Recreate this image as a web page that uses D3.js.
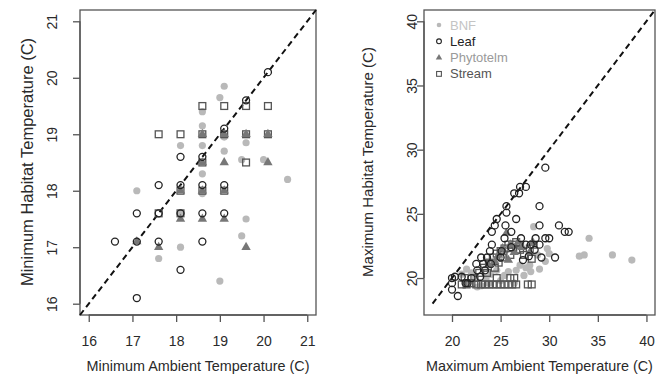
<!DOCTYPE html>
<html>
<head>
<meta charset="utf-8">
<script src="https://cdn.jsdelivr.net/npm/d3@7"></script>
<style>
  body { margin: 0; background: #fff; }
  svg { font-family: "Liberation Sans", Arial, sans-serif; }
</style>
</head>
<body>
<div id="chart"></div>
<script>
// group names for legend
const groups = ['BNF', 'Leaf', 'Phytotelm', 'Stream'];

// minimum temperatures [ambient, habitat]
const minBNF = [[17.1,18.0],[17.6,16.8],[18.1,17.0],[18.1,18.8],[18.6,18.3],[18.6,18.8],[18.6,19.15],[18.6,19.4],
  [19.0,19.65],[19.1,19.85],[19.1,18.7],[19.0,16.4],[19.6,17.5],[19.5,17.2],[19.6,18.85],[20.0,18.55],[20.55,18.2],
  [19.5,18.55],[19.1,18.95],[18.6,17.95],[18.1,17.6]];
const minLeaf = [[16.6,17.1],[17.1,17.1],[17.1,17.6],[17.1,16.1],[17.6,17.1],[17.6,17.6],[17.6,18.1],[18.1,18.1],
  [18.1,17.6],[18.1,18.6],[18.1,16.6],[18.6,17.1],[18.6,17.6],[18.6,18.1],[18.6,18.6],[19.1,17.6],[19.1,18.1],
  [19.1,19.1],[19.6,19.6],[20.1,20.1]];
const minPhyto = [[17.6,17.0],[19.6,17.0],[18.1,17.5],[18.6,17.5],[19.1,17.5],[18.1,18.0],[18.6,18.0],[19.1,18.0],
  [18.6,18.5],[19.1,18.5],[20.1,18.5],[19.1,19.0],[18.6,19.0],[19.6,19.0],[20.1,19.0],[17.1,17.1]];
const minStream = [[17.6,19.0],[18.1,19.0],[18.6,19.5],[18.6,19.0],[19.1,19.5],[19.6,19.5],[20.1,19.5],[19.1,19.0],
  [19.6,19.0],[20.1,19.0],[18.6,18.5],[19.6,18.5],[19.1,18.0],[18.1,18.0],[18.6,18.0],[17.6,17.6],[18.1,17.6]];

// maximum temperatures [ambient, habitat]
const maxBNF = [[34.1,23.1],[33.1,21.7],[33.6,21.8],[36.5,21.8],[38.5,21.4],[29.0,20.7],[29.6,21.3],[28.1,20.5],
  [29.8,22.3],[28.4,24.0],[27.6,20.8],[27.0,21.0],[26.6,20.6],[25.8,20.5],[25.4,20.2],[24.6,20.6],[24.0,20.3],
  [23.5,20.0],[23.0,19.4],[22.6,19.3],[22.0,20.4],[21.5,20.7],[21.0,20.3],[22.4,20.0],[26.4,19.6],[27.4,20.2],
  [25.0,19.8],[23.8,19.6],[28.8,21.8],[30.0,21.9],[28.0,21.0]];
const maxLeaf = [[20.0,20.0],[20.0,19.6],[20.0,19.1],[20.6,18.6],[20.3,20.1],[21.0,20.1],[21.4,19.6],[22.0,20.0],
  [22.6,20.6],[22.5,21.1],[23.0,21.6],[23.2,21.1],[23.6,21.6],[23.9,22.1],[24.1,22.6],[24.1,23.6],[24.4,24.1],
  [24.6,24.6],[25.1,22.1],[25.4,23.1],[25.5,24.1],[25.6,25.1],[25.6,25.6],[26.4,26.6],[26.9,26.6],[27.0,27.1],
  [27.6,27.1],[26.6,24.6],[26.1,23.6],[27.1,23.1],[27.6,22.6],[28.1,22.6],[28.6,23.1],[29.0,24.1],[29.0,25.6],
  [29.6,28.6],[29.0,22.6],[29.6,23.1],[30.0,23.1],[31.0,24.1],[31.6,23.6],[32.0,23.6],[30.6,21.6],[29.2,21.6],
  [28.5,22.2],[27.9,21.7],[27.3,21.4],[26.1,22.4],[25.0,21.6],[24.0,21.1],[23.4,20.6],[22.9,20.1],[21.6,19.6]];
const maxPhyto = [[24.8,21.8],[25.2,22.3],[25.6,23.5],[26.0,22.6],[26.4,22.0],[26.8,22.8],[27.2,22.4],[28.0,22.0],
  [28.3,22.8],[24.4,21.3],[23.8,21.0],[25.8,21.4]];
const maxStream = [[21.0,19.5],[21.5,19.5],[22.5,19.5],[23.0,19.5],[23.4,19.5],[23.8,19.5],[24.2,19.5],[24.6,19.5],
  [25.0,19.5],[25.4,19.5],[25.8,19.5],[26.2,19.5],[26.6,19.5],[27.8,19.5],[28.2,19.5],[21.3,20.0],[21.8,19.6],
  [24.6,20.0],[26.0,20.0],[26.4,20.0],[22.3,20.0],[22.8,20.4],[23.3,20.8],[23.8,21.2],[24.2,21.6],[24.6,21.9],
  [25.0,22.1],[25.4,22.3],[25.8,22.6],[26.2,22.6],[26.6,22.8],[27.0,22.2],[27.4,21.8],[28.0,22.3],[28.4,22.6],
  [24.8,21.2],[25.2,21.6],[26.0,21.8],[26.6,22.2],[27.0,22.6],[28.2,21.5],[24.4,20.8],[23.6,20.4],[22.0,19.6]];

const minTicks = [16, 17, 18, 19, 20, 21];
const maxTicks = [20, 25, 30, 35, 40];

const width = 671, height = 387;
const col = { BNF: '#b9b9b9', Leaf: '#222', Phytotelm: '#777', Stream: '#555' };
const textCol = { BNF: '#c4c4c4', Leaf: '#222', Phytotelm: '#9a9a9a', Stream: '#555' };

const svg = d3.select('#chart').append('svg')
  .attr('width', width).attr('height', height);

function drawPanel(opt) {
  const x = d3.scaleLinear().domain(opt.dom).range([opt.left, opt.right]);
  const y = d3.scaleLinear().domain(opt.dom).range([315, 10]);
  const g = svg.append('g');

  // box
  g.append('rect')
    .attr('x', opt.left).attr('y', 10)
    .attr('width', opt.right - opt.left).attr('height', 305)
    .attr('fill', 'none').attr('stroke', '#555').attr('stroke-width', 1.3);

  const xAxis = g.append('g').attr('transform', 'translate(0,315)')
    .call(d3.axisBottom(x).tickValues(opt.ticks).tickSize(7).tickPadding(19).tickFormat(d3.format('d')));
  const yAxis = g.append('g').attr('transform', `translate(${opt.left},0)`)
    .call(d3.axisLeft(y).tickValues(opt.ticks).tickSize(7).tickFormat(d3.format('d')));
  [xAxis, yAxis].forEach(a => {
    a.select('.domain').attr('stroke', '#555').attr('stroke-width', 1.3);
    a.selectAll('.tick line').attr('stroke', '#555').attr('stroke-width', 1.3);
    a.selectAll('text').attr('fill', '#2a2a2a').style('font-size', '14px');
  });
  xAxis.select('.domain').attr('d', `M${x(opt.ticks[0])},0H${x(opt.ticks[opt.ticks.length - 1])}`);
  yAxis.select('.domain').attr('d', `M0,${y(opt.ticks[0])}V${y(opt.ticks[opt.ticks.length - 1])}`);
  xAxis.selectAll('.tick text').attr('dy', null).attr('dominant-baseline', 'central');
  yAxis.selectAll('.tick text')
    .attr('x', 0).attr('dy', null)
    .attr('text-anchor', 'middle')
    .attr('transform', `translate(${opt.yLabX - opt.left},0) rotate(-90)`)
    .attr('dominant-baseline', 'central');

  // 1:1 line
  g.append('line')
    .attr('x1', x(opt.lineFrom)).attr('y1', y(opt.lineFrom))
    .attr('x2', x(opt.dom[1])).attr('y2', y(opt.dom[1]))
    .attr('stroke', '#111').attr('stroke-width', 2).attr('stroke-dasharray', '6,4');

  // points
  g.selectAll('.bnf').data(opt.data.BNF).join('circle')
    .attr('cx', d => x(d[0])).attr('cy', d => y(d[1])).attr('r', 3.6)
    .attr('fill', col.BNF);
  g.selectAll('.stream').data(opt.data.Stream).join('rect')
    .attr('x', d => x(d[0]) - 3.4).attr('y', d => y(d[1]) - 3.4)
    .attr('width', 6.8).attr('height', 6.8)
    .attr('fill', 'none').attr('stroke', col.Stream).attr('stroke-width', 1.3);
  const tri = d3.symbol(d3.symbolTriangle, 38);
  g.selectAll('.phyto').data(opt.data.Phytotelm).join('path')
    .attr('d', tri).attr('transform', d => `translate(${x(d[0])},${y(d[1])})`)
    .attr('fill', col.Phytotelm);
  g.selectAll('.leaf').data(opt.data.Leaf).join('circle')
    .attr('cx', d => x(d[0])).attr('cy', d => y(d[1])).attr('r', 3.5)
    .attr('fill', 'none').attr('stroke', col.Leaf).attr('stroke-width', 1.3);

  // titles
  g.append('text')
    .attr('x', (opt.left + opt.right) / 2).attr('y', 366)
    .attr('text-anchor', 'middle').attr('dominant-baseline', 'central')
    .attr('fill', '#2a2a2a').style('font-size', '14.4px').text(opt.xTitle);
  g.append('text')
    .attr('transform', `translate(${opt.yTitleX},${162}) rotate(-90)`)
    .attr('text-anchor', 'middle').attr('dominant-baseline', 'central')
    .attr('fill', '#2a2a2a').style('font-size', opt.yTitleSize).text(opt.yTitle);
  return { x, y, g };
}

drawPanel({
  left: 80, right: 316, dom: [15.8, 21.2], ticks: minTicks, lineFrom: 15.8, yLabX: 52,
  data: { BNF: minBNF, Leaf: minLeaf, Phytotelm: minPhyto, Stream: minStream },
  xTitle: 'Minimum Ambient Temperature (C)', yTitle: 'Minimum Habitat Temperature (C)',
  yTitleX: 27, yTitleSize: '16.5px'
});

drawPanel({
  left: 424, right: 655, dom: [17.12, 40.88], ticks: maxTicks, lineFrom: 18, yLabX: 412,
  data: { BNF: maxBNF, Leaf: maxLeaf, Phytotelm: maxPhyto, Stream: maxStream },
  xTitle: 'Maximum Ambient Temperature (C)', yTitle: 'Maximum Habitat Temperature (C)',
  yTitleX: 367, yTitleSize: '15px'
});

// legend
const leg = svg.append('g').attr('transform', 'translate(439,25)');
const items = leg.selectAll('g').data(groups).join('g')
  .attr('transform', (d, i) => `translate(0,${i * 16.3})`);
items.each(function (d) {
  const s = d3.select(this);
  if (d === 'BNF') s.append('circle').attr('r', 2.3).attr('fill', col.BNF);
  if (d === 'Leaf') s.append('circle').attr('r', 2.4).attr('fill', 'none').attr('stroke', col.Leaf).attr('stroke-width', 1.1);
  if (d === 'Phytotelm') s.append('path').attr('d', d3.symbol(d3.symbolTriangle, 18)).attr('fill', col.Phytotelm);
  if (d === 'Stream') s.append('rect').attr('x', -2.4).attr('y', -2.4).attr('width', 4.8).attr('height', 4.8)
    .attr('fill', 'none').attr('stroke', col.Stream).attr('stroke-width', 1.1);
});
items.append('text')
  .attr('x', 11).attr('dominant-baseline', 'central')
  .style('font-size', '13px')
  .attr('fill', d => textCol[d]).text(d => d);
</script>
</body>
</html>
